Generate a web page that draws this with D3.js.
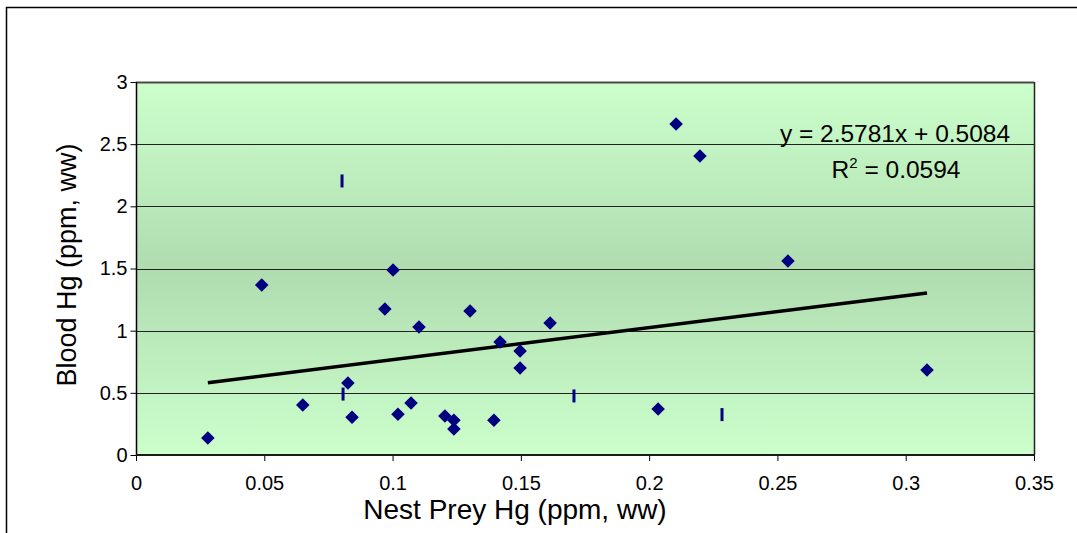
<!DOCTYPE html>
<html>
<head>
<meta charset="utf-8">
<script src="https://cdn.jsdelivr.net/npm/d3@7"></script>
<style>
  html, body { margin: 0; padding: 0; background: #fff; }
  svg { display: block; font-family: "Liberation Sans", Arial, sans-serif; }
</style>
</head>
<body>
<svg id="chart" width="1077" height="533"></svg>
<script>
// ---- data ----
const preyHg  = [0.028, 0.049, 0.065, 0.0826, 0.0842, 0.097, 0.1002, 0.1021, 0.1072, 0.1103,
                 0.1204, 0.1239, 0.1239, 0.1302, 0.1395, 0.1419, 0.1497, 0.1497, 0.1614, 0.2035,
                 0.2105, 0.2198, 0.2541, 0.3083];
const bloodHg = [0.137, 1.367, 0.402, 0.579, 0.304, 1.174, 1.488, 0.328, 0.418, 1.030,
                 0.314, 0.280, 0.209, 1.158, 0.280, 0.909, 0.836, 0.700, 1.062, 0.370,
                 2.662, 2.405, 1.560, 0.684];
// second set of marks drawn as short vertical dashes
const dashX = [0.0803, 0.0807, 0.1707, 0.2284];
const dashY = [2.204, 0.490, 0.475, 0.325];

const xTicks = [0, 0.05, 0.1, 0.15, 0.2, 0.25, 0.3, 0.35];
const xTickLabels = ["0", "0.05", "0.1", "0.15", "0.2", "0.25", "0.3", "0.35"];
const yTicks = [0, 0.5, 1, 1.5, 2, 2.5, 3];
const yTickLabels = ["0", "0.5", "1", "1.5", "2", "2.5", "3"];

const slope = 2.5781, intercept = 0.5084;
const eqText = "y = 2.5781x + 0.5084";
const r2Value = "0.0594";
const xTitle = "Nest Prey Hg (ppm, ww)";
const yTitle = "Blood Hg (ppm, ww)";

// ---- layout ----
const plot = { left: 136, right: 1034, top: 82, bottom: 455 };
const svg = d3.select("#chart");

const x = d3.scaleLinear().domain([0, 0.35]).range([plot.left, plot.right]);
const y = d3.scaleLinear().domain([0, 3]).range([plot.bottom, plot.top]);

// outer chart border (extends past the window on right/bottom)
svg.append("rect")
  .attr("x", 6.5).attr("y", 7.5).attr("width", 1200).attr("height", 700)
  .attr("fill", "#fff").attr("stroke", "#000").attr("stroke-width", 1.5);

// background gradient
const defs = svg.append("defs");
const grad = defs.append("linearGradient").attr("id", "bg")
  .attr("x1", 0).attr("y1", 0).attr("x2", 0).attr("y2", 1);
grad.append("stop").attr("offset", "0%").attr("stop-color", "#CCFFCC");
grad.append("stop").attr("offset", "50%").attr("stop-color", "#B0DCB0");
grad.append("stop").attr("offset", "100%").attr("stop-color", "#CCFFCC");

svg.append("rect")
  .attr("x", plot.left).attr("y", plot.top)
  .attr("width", plot.right - plot.left).attr("height", plot.bottom - plot.top)
  .attr("fill", "url(#bg)");

// gridlines
svg.append("g").selectAll("line")
  .data(yTicks.filter(d => d > 0))
  .join("line")
  .attr("x1", plot.left).attr("x2", plot.right)
  .attr("y1", d => Math.round(y(d)) + 0.5).attr("y2", d => Math.round(y(d)) + 0.5)
  .attr("stroke", d => d === 3 ? "#4a4a4a" : "#222")
  .attr("stroke-width", d => d === 3 ? 2 : 1);

// right border of plot
svg.append("line")
  .attr("x1", plot.right + 0.5).attr("x2", plot.right + 0.5)
  .attr("y1", plot.top).attr("y2", plot.bottom)
  .attr("stroke", "#222").attr("stroke-width", 1.5);

// axes
const yAxis = d3.axisLeft(y).tickValues(yTicks)
  .tickFormat((d, i) => yTickLabels[i]).tickSize(6).tickPadding(3);
const gy = svg.append("g").attr("transform", `translate(${plot.left + 0.5},0)`).call(yAxis);
gy.select(".domain").remove();
gy.selectAll(".tick line").attr("stroke", "#000");
gy.selectAll(".tick text").attr("font-size", 20).attr("fill", "#000")
  .attr("font-family", "Liberation Sans, Arial, sans-serif");

const xAxis = d3.axisBottom(x).tickValues(xTicks)
  .tickFormat((d, i) => xTickLabels[i]).tickSize(6).tickPadding(15);
const gx = svg.append("g").attr("transform", `translate(0,${plot.bottom})`).call(xAxis);
gx.select(".domain").remove();
gx.selectAll(".tick line").attr("stroke", "#000");
gx.selectAll(".tick text").attr("font-size", 20).attr("fill", "#000")
  .attr("font-family", "Liberation Sans, Arial, sans-serif");

// axis lines
svg.append("line")
  .attr("x1", plot.left + 0.5).attr("x2", plot.left + 0.5)
  .attr("y1", plot.top).attr("y2", plot.bottom)
  .attr("stroke", "#000").attr("stroke-width", 1.5);
svg.append("line")
  .attr("x1", plot.left).attr("x2", plot.right + 1)
  .attr("y1", plot.bottom).attr("y2", plot.bottom)
  .attr("stroke", "#1a1a1a").attr("stroke-width", 2);

// trendline over data extent
const xMin = d3.min(preyHg), xMax = d3.max(preyHg);
svg.append("line")
  .attr("x1", x(xMin)).attr("y1", y(slope * xMin + intercept))
  .attr("x2", x(xMax)).attr("y2", y(slope * xMax + intercept))
  .attr("stroke", "#000").attr("stroke-width", 3.5);

// dashes
svg.append("g").selectAll("rect")
  .data(dashX.map((d, i) => [d, dashY[i]]))
  .join("rect")
  .attr("x", d => x(d[0]) - 1.5).attr("y", d => y(d[1]) - 6.5)
  .attr("width", 3).attr("height", 13)
  .attr("fill", "#000080");

// diamonds
const sym = d3.symbol().type(d3.symbolSquare).size(92);
svg.append("g").selectAll("path")
  .data(preyHg.map((d, i) => [d, bloodHg[i]]))
  .join("path")
  .attr("d", sym)
  .attr("transform", d => `translate(${x(d[0])},${y(d[1])}) rotate(45)`)
  .attr("fill", "#000080");

// equation text
svg.append("text").attr("x", 895).attr("y", 142).attr("text-anchor", "middle")
  .attr("font-size", 24.5).attr("fill", "#000").text(eqText);
const r2 = svg.append("text").attr("x", 896).attr("y", 178).attr("text-anchor", "middle")
  .attr("font-size", 24.5).attr("fill", "#000");
r2.append("tspan").text("R");
r2.append("tspan").attr("dy", -10).attr("font-size", 15).text("2");
r2.append("tspan").attr("dy", 10).text(" = " + r2Value);

// axis titles
svg.append("text").attr("x", 515).attr("y", 519).attr("text-anchor", "middle")
  .attr("font-size", 28).attr("fill", "#000").text(xTitle);
svg.append("text").attr("transform", "translate(76,265) rotate(-90)")
  .attr("text-anchor", "middle").attr("font-size", 27).attr("fill", "#000").text(yTitle);
</script>
</body>
</html>
